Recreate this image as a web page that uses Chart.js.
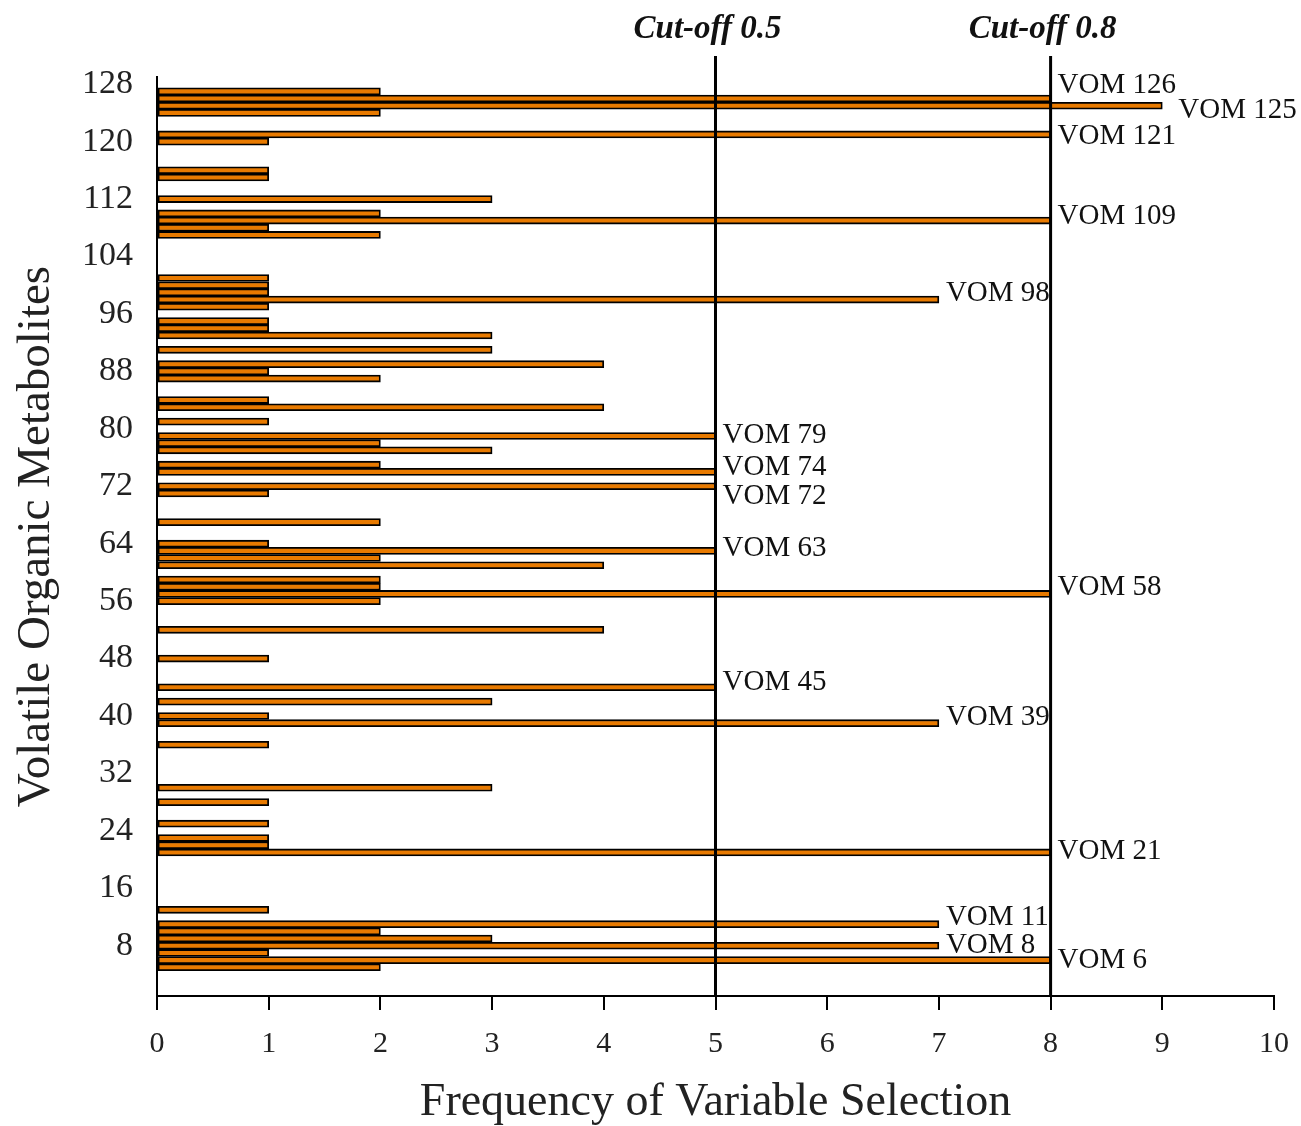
<!DOCTYPE html>
<html>
<head>
<meta charset="utf-8">
<script src="https://cdn.jsdelivr.net/npm/chart.js@4.4.1/dist/chart.umd.min.js"></script>
<style>
  html, body { margin: 0; padding: 0; background: #fff; }
  canvas { display: block; }
</style>
</head>
<body>
<canvas id="vomChart" width="1301" height="1126"></canvas>
<script>
// metabolite index and how often it was selected
const vomIndex = [5, 6, 7, 8, 9, 10, 11, 13, 21, 22, 23, 25, 28, 30, 36, 39, 40, 42, 44, 48,
  52, 56, 57, 58, 59, 61, 62, 63, 64, 67, 71, 72, 74, 75, 77, 78, 79, 81, 83, 84,
  87, 88, 89, 91, 93, 94, 95, 97, 98, 99, 100, 101, 107, 108, 109, 110, 112, 115, 116, 120,
  121, 124, 125, 126, 127];
const frequency = [2, 8, 1, 7, 3, 2, 7, 1, 8, 1, 1, 1, 1, 3, 1, 7, 1, 3, 5, 1,
  4, 2, 8, 2, 2, 4, 2, 5, 1, 2, 1, 5, 5, 2, 3, 2, 5, 1, 4, 1,
  2, 1, 4, 3, 3, 1, 1, 1, 7, 1, 1, 1, 2, 1, 8, 2, 3, 1, 1, 1,
  8, 2, 9, 8, 2];

const yTicks = [8, 16, 24, 32, 40, 48, 56, 64, 72, 80, 88, 96, 104, 112, 120, 128];

const cutoffValues = [5, 8];
const cutoffLabels = ['Cut-off 0.5', 'Cut-off 0.8'];

// labelled metabolites: text, bar value, y position (in index units)
const vomNames = ['VOM 126', 'VOM 125', 'VOM 121', 'VOM 109', 'VOM 98', 'VOM 79', 'VOM 74', 'VOM 72',
  'VOM 63', 'VOM 58', 'VOM 45', 'VOM 39', 'VOM 21', 'VOM 11', 'VOM 8', 'VOM 6'];
const vomNameX = [8, 9, 8, 8, 7, 5, 5, 5, 5, 8, 5, 7, 8, 7, 7, 8];
const vomNameY = [127.85, 124.4, 120.7, 109.6, 98.9, 79.1, 74.6, 70.6, 63.3, 57.9, 44.65, 39.8, 21.1, 12.0, 8.1, 5.9];

const serif = '"Liberation Serif", "Times New Roman", serif';

const annotations = {
  id: 'annotations',
  afterDatasetsDraw(chart) {
    const { ctx, chartArea, scales: { x, y } } = chart;
    ctx.save();
    // cut-off lines
    ctx.strokeStyle = '#000';
    ctx.lineWidth = 3;
    cutoffValues.forEach((v, i) => {
      const px = x.getPixelForValue(v);
      ctx.beginPath();
      ctx.moveTo(px, chartArea.top - 21);
      ctx.lineTo(px, chartArea.bottom);
      ctx.stroke();
      ctx.fillStyle = '#111';
      ctx.font = 'italic bold 33px ' + serif;
      ctx.textAlign = 'center';
      ctx.textBaseline = 'middle';
      ctx.fillText(cutoffLabels[i], px - 8, 29);
    });
    // VOM labels
    ctx.font = '29px ' + serif;
    ctx.fillStyle = '#111';
    ctx.textAlign = 'left';
    ctx.textBaseline = 'middle';
    vomNames.forEach((name, i) => {
      const off = vomNameX[i] === 9 ? 16 : 7;
      ctx.fillText(name, x.getPixelForValue(vomNameX[i]) + off, y.getPixelForValue(vomNameY[i]));
    });
    ctx.restore();
  }
};

new Chart(document.getElementById('vomChart'), {
  type: 'bar',
  data: {
    datasets: [{
      data: vomIndex.map((v, i) => ({ x: frequency[i], y: v })),
      backgroundColor: '#e87a00',
      borderColor: '#000',
      borderWidth: 1.8,
      borderSkipped: false,
      barThickness: 7
    }]
  },
  options: {
    indexAxis: 'y',
    responsive: false,
    animation: false,
    layout: { padding: { top: 77, right: 27, left: 0, bottom: 0 } },
    plugins: {
      legend: { display: false },
      tooltip: { enabled: false }
    },
    scales: {
      x: {
        type: 'linear',
        min: 0,
        max: 10,
        ticks: {
          stepSize: 1,
          color: '#222',
          font: { family: serif, size: 30 },
          padding: 16
        },
        grid: { drawOnChartArea: false, drawTicks: true, tickLength: 14, color: '#000', lineWidth: 2 },
        border: { display: true, color: '#000', width: 2 },
        title: {
          display: true,
          text: 'Frequency of Variable Selection',
          color: '#222',
          font: { family: serif, size: 46, lineHeight: 1 },
          padding: { top: 10, bottom: 0 }
        },
        afterFit(scale) {
          scale.height = 130;
          scale.paddingLeft = 0;
          scale.paddingRight = 0;
        }
      },
      y: {
        type: 'linear',
        min: 1,
        max: 129,
        offset: false,
        afterBuildTicks(scale) { scale.ticks = yTicks.map(v => ({ value: v })); },
        ticks: {
          color: '#222',
          font: { family: serif, size: 34 },
          padding: 16
        },
        grid: { display: false, offset: false },
        border: { display: true, color: '#000', width: 2 },
        title: {
          display: true,
          text: 'Volatile Organic Metabolites',
          color: '#222',
          font: { family: serif, size: 47 },
          padding: { top: 8, bottom: 0 }
        },
        afterFit(scale) { scale.width = 157; }
      }
    }
  },
  plugins: [annotations]
});
</script>
</body>
</html>
